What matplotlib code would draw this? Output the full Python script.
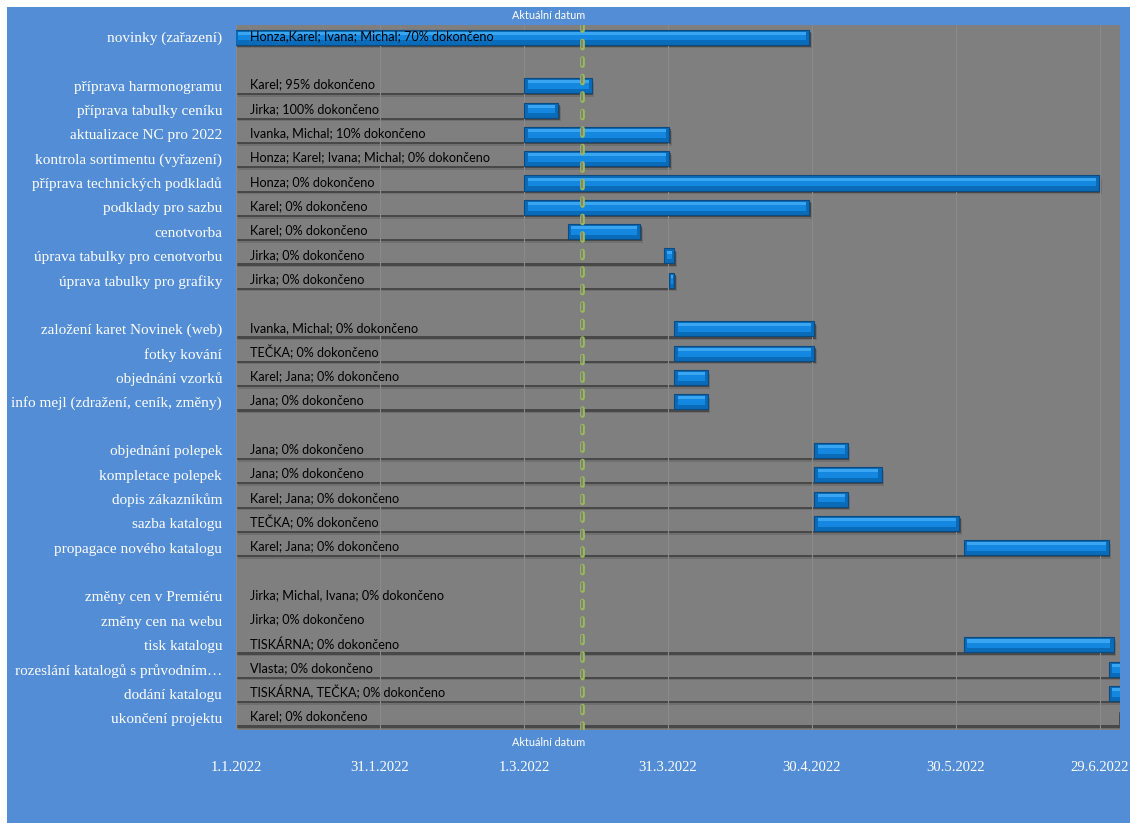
import matplotlib
matplotlib.use('Agg')
import matplotlib.pyplot as plt
import matplotlib.dates as mdates
from matplotlib.patches import Rectangle
import numpy as np

plt.rcParams['lines.scale_dashes'] = False

# rows top to bottom, '' = empty spacer row
tasks = ['novinky (zařazení)', '',
         'příprava harmonogramu', 'příprava tabulky ceníku', 'aktualizace NC pro 2022',
         'kontrola sortimentu (vyřazení)', 'příprava technických podkladů', 'podklady pro sazbu',
         'cenotvorba', 'úprava tabulky pro cenotvorbu', 'úprava tabulky pro grafiky', '',
         'založení karet Novinek (web)', 'fotky kování', 'objednání vzorků',
         'info mejl (zdražení, ceník, změny)', '',
         'objednání polepek', 'kompletace polepek', 'dopis zákazníkům', 'sazba katalogu',
         'propagace nového katalogu', '',
         'změny cen v Premiéru', 'změny cen na webu', 'tisk katalogu',
         'rozeslání katalogů s průvodním…', 'dodání katalogu', 'ukončení projektu']

notes = ['Honza,Karel; Ivana; Michal; 70% dokončeno', '',
         'Karel; 95% dokončeno', 'Jirka; 100% dokončeno', 'Ivanka, Michal; 10% dokončeno',
         'Honza; Karel; Ivana; Michal; 0% dokončeno', 'Honza; 0% dokončeno', 'Karel; 0% dokončeno',
         'Karel; 0% dokončeno', 'Jirka; 0% dokončeno', 'Jirka; 0% dokončeno', '',
         'Ivanka, Michal; 0% dokončeno', 'TEČKA; 0% dokončeno', 'Karel; Jana; 0% dokončeno',
         'Jana; 0% dokončeno', '',
         'Jana; 0% dokončeno', 'Jana; 0% dokončeno', 'Karel; Jana; 0% dokončeno',
         'TEČKA; 0% dokončeno', 'Karel; Jana; 0% dokončeno', '',
         'Jirka; Michal, Ivana; 0% dokončeno', 'Jirka; 0% dokončeno', 'TISKÁRNA; 0% dokončeno',
         'Vlasta; 0% dokončeno', 'TISKÁRNA, TEČKA; 0% dokončeno', 'Karel; 0% dokončeno']

starts = ['2022-01-01', None,
          '2022-03-02', '2022-03-02', '2022-03-02', '2022-03-02', '2022-03-02', '2022-03-02',
          '2022-03-11', '2022-03-31', '2022-04-01', None,
          '2022-04-02', '2022-04-02', '2022-04-02', '2022-04-02', None,
          '2022-05-01', '2022-05-01', '2022-05-01', '2022-05-01', '2022-06-01', None,
          None, None, '2022-06-01', '2022-07-01', '2022-07-01', '2022-07-03']

durations = [119, 0,
             14, 7, 30, 30, 119, 59, 15, 2, 1, 0,
             29, 29, 7, 7, 0,
             7, 14, 7, 30, 30, 0,
             0, 0, 31, 7, 7, 0]

today = '2022-03-14'
tick_labels = ['1.1.2022', '31.1.2022', '1.3.2022', '31.3.2022', '30.4.2022', '30.5.2022', '29.6.2022']

bg_blue = '#538dd5'
plot_gray = '#7f7f7f'

day0 = mdates.datestr2num('2022-01-01')
x_lo = day0 + 0.3
x_hi = day0 + 183.3
tick_step = 29.8

fig = plt.figure(figsize=(11.3, 8.23), dpi=100, facecolor='white')
fig.patches.append(Rectangle((7 / 1130, 0), 1 - 7 / 1130, 1 - 7 / 823,
                             transform=fig.transFigure, facecolor=bg_blue,
                             edgecolor='none', zorder=-5))
ax = fig.add_axes([236 / 1130, 93 / 823, 884 / 1130, 705 / 823])
ax.set_facecolor(plot_gray)
for s in ax.spines.values():
    s.set_visible(False)

n = len(tasks)
y = np.arange(n)
hgt = 0.62

for i in range(n):
    if starts[i] is None:
        continue
    st = mdates.datestr2num(starts[i])
    off_w = max(st - x_lo, 0)
    # soft shadow under both parts of the bar
    for dx, dy, a in [(0.5, 0.15, 0.12), (0.3, 0.09, 0.35)]:
        if off_w > 0:
            ax.barh(i + dy, off_w, left=x_lo + dx, height=hgt, color='black', alpha=a, lw=0, zorder=1)
        if durations[i] > 0:
            ax.barh(i + dy, durations[i], left=st + dx, height=hgt, color='black', alpha=a, lw=0, zorder=1)
    if off_w > 0:
        ax.barh(i, off_w, left=x_lo, height=hgt, color=plot_gray, lw=0, zorder=1.5)
    if durations[i] > 0:
        w = durations[i]
        ax.barh(i, w, left=st, height=hgt, color='#0a6bb8', edgecolor='#0d4a80', lw=0.8, zorder=3)
        ins = min(0.7, w * 0.25)
        ax.barh(i - hgt * 0.06, w - 2 * ins, left=st + ins, height=hgt * 0.56,
                color='#1488e0', lw=0, zorder=3.1)
        ax.barh(i - hgt * 0.26, w - 2 * ins, left=st + ins, height=hgt * 0.2,
                color='#3aa5f0', lw=0, zorder=3.2)

ticks = x_lo + tick_step * np.arange(len(tick_labels))
for t in ticks:
    ax.axvline(t, color='#8a8a8a', lw=0.8, zorder=2)

ax.set_xlim(x_lo, x_hi)
ax.set_ylim(n - 0.5, -0.5)
ax.set_xticks(ticks)
ax.set_xticklabels(tick_labels, family=['Liberation Serif', 'DejaVu Serif'], fontsize=10.5, color='white')
ax.set_yticks(y)
ax.set_yticklabels(tasks, family=['Liberation Serif', 'DejaVu Serif'], fontsize=11, color='white')
ax.tick_params(axis='x', length=0, pad=22)
ax.tick_params(axis='y', length=0, pad=10)

for i in range(n):
    if notes[i]:
        ax.annotate(notes[i], xy=(0, i - 0.05), xycoords=('axes fraction', 'data'),
                    xytext=(10, 0), textcoords='offset points', ha='left', va='center',
                    fontsize=9.1, color='black', family=['Lato', 'DejaVu Sans'], zorder=4)

# current date marker
td = mdates.datestr2num(today)
ax.axvline(td, color='#9bbb59', lw=3.4, linestyle=(0, (5, 7.6)), dash_capstyle='round', zorder=5)
ax.axvline(td, color=plot_gray, lw=1.3, linestyle=(0, (5, 7.6)), dash_capstyle='round', zorder=5.1)
ax.annotate('Aktuální datum', xy=(td, 1), xycoords=('data', 'axes fraction'),
            xytext=(2, 3), textcoords='offset points', ha='right', va='bottom',
            fontsize=7.8, color='white', family=['Lato', 'DejaVu Sans'])
ax.annotate('Aktuální datum', xy=(td, 0), xycoords=('data', 'axes fraction'),
            xytext=(2, -5), textcoords='offset points', ha='right', va='top',
            fontsize=7.8, color='white', family=['Lato', 'DejaVu Sans'])

fig.savefig('out.png', dpi=100, facecolor=fig.get_facecolor())
